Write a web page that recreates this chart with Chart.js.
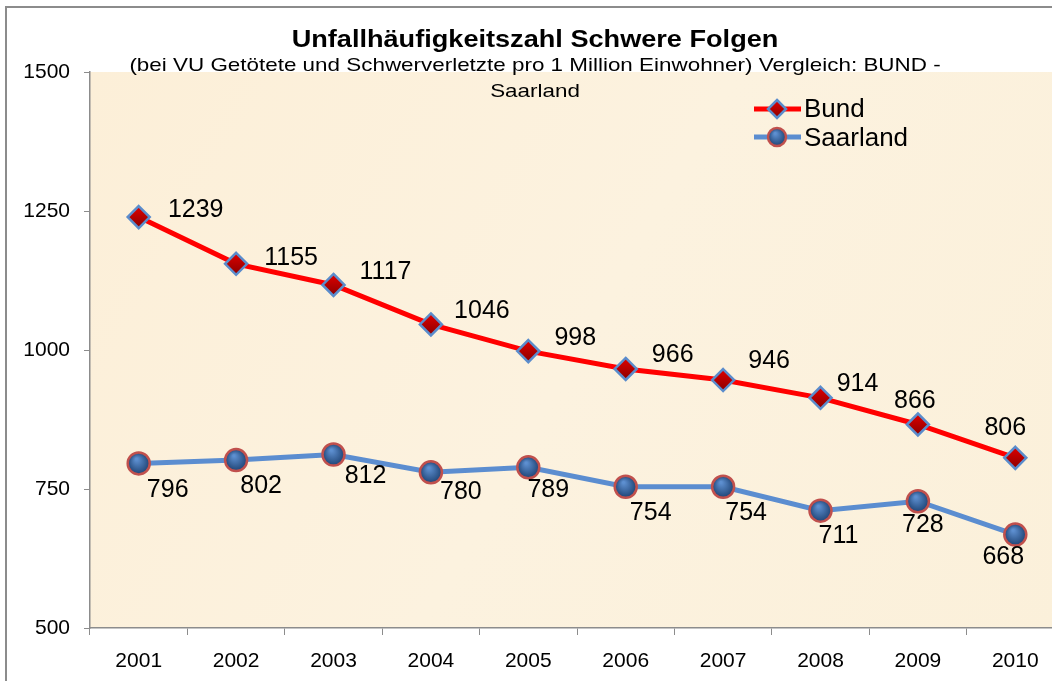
<!DOCTYPE html>
<html>
<head>
<meta charset="utf-8">
<script src="https://cdn.jsdelivr.net/npm/chart.js@4"></script>
<style>
  html, body { margin: 0; padding: 0; background: #fff; overflow: hidden; }
  #wrap { position: relative; width: 1080px; height: 681px; }
</style>
</head>
<body>
<div id="wrap"><canvas id="myChart" width="1080" height="681"></canvas></div>
<script>
const years = ["2001", "2002", "2003", "2004", "2005", "2006", "2007", "2008", "2009", "2010"];
const bund = [1239, 1155, 1117, 1046, 998, 966, 946, 914, 866, 806];
const saarland = [796, 802, 812, 780, 789, 754, 754, 711, 728, 668];
const yTicks = [500, 750, 1000, 1250, 1500];

const titleText = "Unfallhäufigkeitszahl Schwere Folgen";
const subLines = ["(bei VU Getötete und Schwerverletzte pro 1 Million Einwohner) Vergleich: BUND -", "Saarland"];

// label offsets (dx, dy) from each point
const bundOffsets = [[57, -7], [55, -6], [52, -13], [51, -13], [47, -13], [47, -14], [46, -19], [37, -14], [-3, -23], [-10, -30]];
const saarOffsets = [[29, 27], [25, 26], [32, 22], [30, 20], [20, 23], [25, 26], [23, 26], [18, 25], [5, 24], [-12, 23]];

const font = "'Liberation Sans', Arial, sans-serif";

function drawDiamond(ctx, x, y, r) {
  ctx.save();
  ctx.beginPath();
  ctx.moveTo(x, y - r); ctx.lineTo(x + r, y); ctx.lineTo(x, y + r); ctx.lineTo(x - r, y); ctx.closePath();
  let g = ctx.createLinearGradient(x, y - r, x, y + r);
  g.addColorStop(0, "#e00000"); g.addColorStop(1, "#8a0000");
  ctx.fillStyle = g; ctx.fill();
  ctx.lineWidth = 2.5; ctx.strokeStyle = "#5a8ccc"; ctx.stroke();
  ctx.restore();
}
function drawBall(ctx, x, y, r) {
  ctx.save();
  ctx.beginPath(); ctx.arc(x, y, r, 0, Math.PI * 2);
  let g = ctx.createRadialGradient(x - r * 0.2, y - r * 0.4, 1, x, y, r);
  g.addColorStop(0, "#5d8fd0"); g.addColorStop(1, "#1f4475");
  ctx.fillStyle = g; ctx.fill();
  ctx.lineWidth = 2.5; ctx.strokeStyle = "#c0504d"; ctx.stroke();
  ctx.restore();
}
// text a bit wider than the font, like the stretched original
function wideText(ctx, text, x, y, sx) {
  ctx.save();
  ctx.translate(x, y);
  ctx.scale(sx, 1);
  ctx.fillText(text, 0, 0);
  ctx.restore();
}

const decor = {
  id: "decor",
  beforeDraw(chart) {
    const { ctx, chartArea: a } = chart;
    ctx.save();
    ctx.fillStyle = "#fff";
    ctx.fillRect(0, 0, chart.width, chart.height);
    let g = ctx.createLinearGradient(a.left, a.top, a.right, a.bottom);
    g.addColorStop(0, "#fcefd8"); g.addColorStop(0.5, "#fcf2df"); g.addColorStop(1, "#fbf0da");
    ctx.fillStyle = g;
    ctx.fillRect(a.left, a.top, a.right - a.left, a.bottom - a.top);
    ctx.strokeStyle = "#8c8c8c"; ctx.lineWidth = 2;
    ctx.strokeRect(6, 7, 1066, 700);
    ctx.restore();
  },
  afterDatasetsDraw(chart) {
    const { ctx } = chart;
    ctx.save();
    chart.getDatasetMeta(0).data.forEach(p => drawDiamond(ctx, p.x, p.y, 11));
    chart.getDatasetMeta(1).data.forEach(p => drawBall(ctx, p.x, p.y, 11));
    // value labels
    ctx.fillStyle = "#000"; ctx.font = "25px " + font;
    ctx.textAlign = "center"; ctx.textBaseline = "middle";
    chart.getDatasetMeta(0).data.forEach((p, i) => ctx.fillText(bund[i], p.x + bundOffsets[i][0], p.y + bundOffsets[i][1]));
    chart.getDatasetMeta(1).data.forEach((p, i) => ctx.fillText(saarland[i], p.x + saarOffsets[i][0], p.y + saarOffsets[i][1]));
    // title
    ctx.font = "bold 24px " + font;
    wideText(ctx, titleText, 535, 40, 1.13);
    ctx.font = "19px " + font;
    wideText(ctx, subLines[0], 535, 66, 1.18);
    wideText(ctx, subLines[1], 535, 92, 1.18);
    // legend
    ctx.lineWidth = 5; ctx.lineCap = "butt";
    ctx.strokeStyle = "#ff0000";
    ctx.beginPath(); ctx.moveTo(754, 109); ctx.lineTo(801, 109); ctx.stroke();
    drawDiamond(ctx, 777, 109, 9);
    ctx.strokeStyle = "#5b8dd0";
    ctx.beginPath(); ctx.moveTo(754, 137); ctx.lineTo(801, 137); ctx.stroke();
    drawBall(ctx, 777, 137, 9);
    ctx.fillStyle = "#000"; ctx.font = "26px " + font; ctx.textAlign = "left";
    ctx.fillText("Bund", 804, 110);
    ctx.fillText("Saarland", 804, 139);
    ctx.restore();
  }
};

new Chart(document.getElementById("myChart"), {
  type: "line",
  data: {
    labels: years,
    datasets: [
      { label: "Bund", data: bund, borderColor: "#ff0000", borderWidth: 5, pointRadius: 0, tension: 0 },
      { label: "Saarland", data: saarland, borderColor: "#5b8dd0", borderWidth: 5, pointRadius: 0, tension: 0 }
    ]
  },
  options: {
    responsive: false,
    animation: false,
    layout: { padding: { top: 72, right: 16, left: 0, bottom: 0 } },
    plugins: { legend: { display: false }, title: { display: false }, tooltip: { enabled: false } },
    scales: {
      x: {
        offset: true,
        grid: { offset: true, drawOnChartArea: false, color: "#8c8c8c", tickLength: 7 },
        border: { color: "#8c8c8c", width: 1.5 },
        ticks: { color: "#000", font: { family: font, size: 21 }, padding: 14 },
        afterFit(s) { s.height = 53; }
      },
      y: {
        min: 500, max: 1500,
        afterBuildTicks(s) { s.ticks = yTicks.map(v => ({ value: v })); },
        grid: { drawOnChartArea: false, color: "#8c8c8c", tickLength: 6 },
        border: { color: "#8c8c8c", width: 1.5 },
        ticks: { color: "#000", font: { family: font, size: 21 }, padding: 14, callback: v => String(v) },
        afterFit(s) { s.width = 90; }
      }
    }
  },
  plugins: [decor]
});
</script>
</body>
</html>
